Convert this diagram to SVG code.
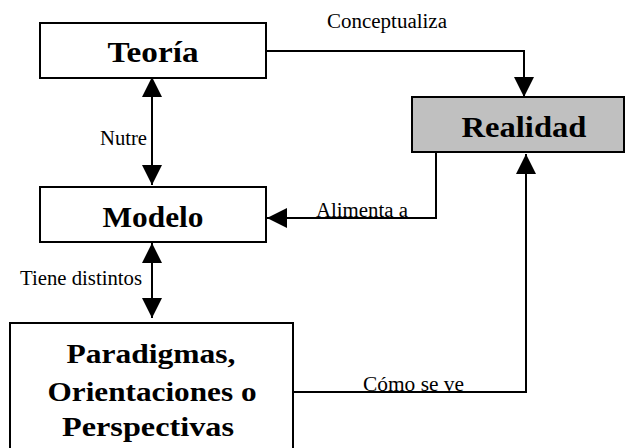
<svg xmlns="http://www.w3.org/2000/svg" width="627" height="448" viewBox="0 0 627 448">
<style>
.box{fill:#fff;stroke:#000;stroke-width:2}
.gray{fill:#c0c0c0}
.bt{font-family:"Liberation Serif","Times New Roman",serif;font-weight:bold;font-size:29px;text-anchor:middle;fill:#000}
.pt{font-size:28px}
.lt{font-family:"Liberation Serif","Times New Roman",serif;font-size:20px;fill:#000}
.c{fill:none;stroke:#000;stroke-width:2}
</style>
<defs>
<marker id="ah" markerUnits="userSpaceOnUse" markerWidth="20" markerHeight="20" refX="20" refY="10" orient="auto-start-reverse" viewBox="0 0 20 20">
<path d="M0,0 L20,10 L0,20 z" fill="#000"/>
</marker>
</defs>
<rect width="627" height="448" fill="#fff"/>
<g id="connectors">
<polyline class="c" points="266,51 524,51 524,97" marker-end="url(#ah)"/>
<line class="c" x1="152" y1="77" x2="152" y2="185" marker-start="url(#ah)" marker-end="url(#ah)"/>
<polyline class="c" points="436,152 436,218 267,218" marker-end="url(#ah)"/>
<line class="c" x1="152" y1="243" x2="152" y2="318" marker-start="url(#ah)" marker-end="url(#ah)"/>
<polyline class="c" points="293,392 526,392 526,154" marker-end="url(#ah)"/>
<text class="lt" x="327" y="28" textLength="120" lengthAdjust="spacingAndGlyphs">Conceptualiza</text>
<text class="lt" x="100" y="145" textLength="47" lengthAdjust="spacingAndGlyphs">Nutre</text>
<text class="lt" x="316" y="217" textLength="92" lengthAdjust="spacingAndGlyphs">Alimenta a</text>
<text class="lt" x="20" y="285" textLength="122" lengthAdjust="spacingAndGlyphs">Tiene distintos</text>
<text class="lt" x="363" y="391" textLength="101" lengthAdjust="spacingAndGlyphs">Cómo se ve</text>
</g>
<g id="teoria">
<rect class="box" x="40" y="23" width="226" height="55"/>
<text class="bt" x="153" y="62" textLength="91" lengthAdjust="spacingAndGlyphs">Teoría</text>
</g>
<g id="realidad">
<rect class="box gray" x="412" y="97" width="212" height="55"/>
<text class="bt" x="524" y="137" textLength="125" lengthAdjust="spacingAndGlyphs">Realidad</text>
</g>
<g id="modelo">
<rect class="box" x="40" y="187" width="226" height="55"/>
<text class="bt" x="153" y="227" textLength="101" lengthAdjust="spacingAndGlyphs">Modelo</text>
</g>
<g id="paradigmas">
<rect class="box" x="10" y="323" width="283" height="140"/>
<text class="bt pt" x="151" y="363" textLength="169" lengthAdjust="spacingAndGlyphs">Paradigmas,</text>
<text class="bt pt" x="152" y="401" textLength="209" lengthAdjust="spacingAndGlyphs">Orientaciones o</text>
<text class="bt pt" x="148" y="436" textLength="172" lengthAdjust="spacingAndGlyphs">Perspectivas</text>
</g>
</svg>
